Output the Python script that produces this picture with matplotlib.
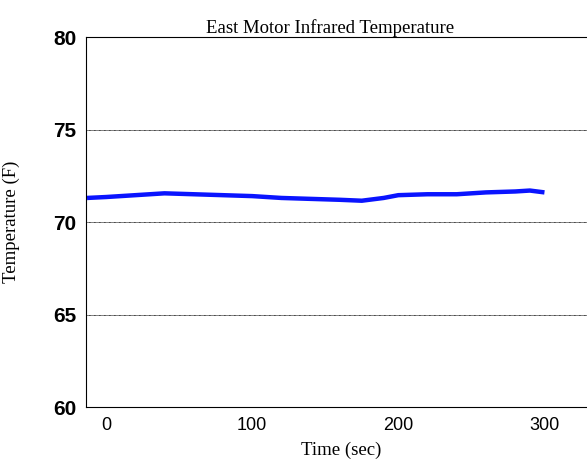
import matplotlib
matplotlib.use('Agg')
from matplotlib import pyplot as plt

# values
time_sec = [-13, 0, 20, 40, 60, 80, 100, 120, 140, 160, 175, 190, 200, 220, 240, 260, 280, 290, 300]
temp_f = [71.3, 71.35, 71.45, 71.55, 71.5, 71.45, 71.4, 71.3, 71.25, 71.2, 71.15, 71.3, 71.45, 71.5, 71.5, 71.6, 71.65, 71.7, 71.6]
x_ticks = [0, 100, 200, 300]
y_ticks = [60, 65, 70, 75, 80]

fig = plt.figure(figsize=(5.87, 4.73), dpi=100)
ax = fig.add_axes([86/587, 1 - 407/473, (600-86)/587, (407-37)/473])
ax.plot(time_sec, temp_f, color='#0a14ff', linewidth=3.2, solid_capstyle='butt')
ax.set_xlim(-13.7, 338)
ax.set_ylim(60, 80)
ax.set_xticks(x_ticks)
ax.set_yticks(y_ticks)
for tl in ax.get_xticklabels():
    tl.set_fontfamily('Liberation Sans')
    tl.set_fontsize(13)
for tl in ax.get_yticklabels():
    tl.set_fontfamily('Liberation Sans')
    tl.set_fontsize(15)
    tl.set_fontweight('bold')
ax.tick_params(length=0, pad=7)
for y in [65, 70, 75]:
    ax.axhline(y, color='black', linewidth=0.6, linestyle=(0, (1, 0.5)))
ax.spines['right'].set_visible(False)
ax.set_title('East Motor Infrared Temperature', fontfamily='Liberation Serif', fontsize=13.5, x=(330-86)/(600-86), pad=3)
ax.set_xlabel('Time (sec)', fontfamily='Liberation Serif', fontsize=13.5)
ax.xaxis.set_label_coords((341-86)/(600-86), -0.095)
ax.set_ylabel('Temperature (F)', fontfamily='Liberation Serif', fontsize=13.5)
ax.yaxis.set_label_coords((20-86)/(600-86), 0.5)
fig.savefig('out.png', dpi=100)
